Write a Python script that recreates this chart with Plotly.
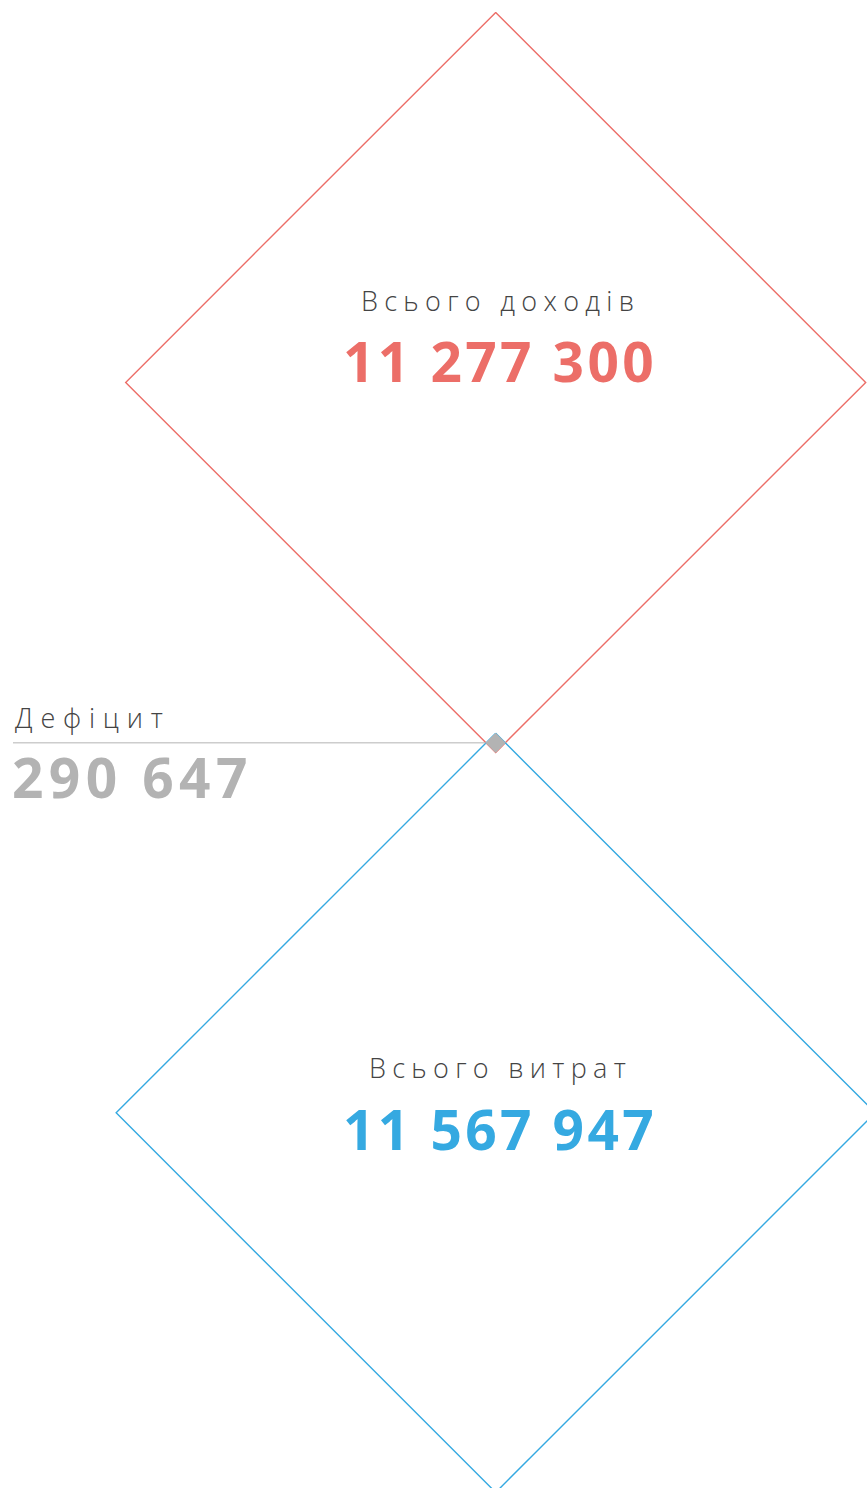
import plotly.graph_objects as go

# ---- data ----
labels = ["Всього доходів", "Всього витрат"]
values = [11277300, 11567947]
deficit_label = "Дефіцит"
deficit_value = values[1] - values[0]  # 290 647

colors = ["#ec6e68", "#35a9e1"]
grey = "#b3b3b3"
label_color = "#444444"

W, H = 867, 1488
k = 370.0 / values[0]          # pixels per unit (half-diagonal scale)
cx = 495.7                      # horizontal centre of diamonds
junction_y = 742.85             # centre of the overlap

def fmt(v):
    return f"{v:,}".replace(",", " ")

def diamond(x0, y0, r):
    xs = [x0, x0 + r, x0, x0 - r, x0]
    ys = [y0 - r, y0, y0 + r, y0, y0 - r]
    return xs, ys

r_inc = values[0] * k
r_exp = values[1] * k
d = deficit_value * k
c_inc = junction_y + d - r_inc
c_exp = junction_y - d + r_exp

fig = go.Figure()

for r, cy, col in [(r_inc, c_inc, colors[0]), (r_exp, c_exp, colors[1])]:
    xs, ys = diamond(cx, cy, r)
    fig.add_trace(go.Scatter(x=xs, y=ys, mode="lines",
                             line=dict(color=col, width=1.4),
                             hoverinfo="skip", showlegend=False))

# overlap (deficit) diamond
xs, ys = diamond(cx, junction_y, d)
fig.add_trace(go.Scatter(x=xs, y=ys, mode="lines", fill="toself",
                         fillcolor=grey, line=dict(color=grey, width=1),
                         hoverinfo="skip", showlegend=False))

# deficit leader line
fig.add_trace(go.Scatter(x=[13, cx - d], y=[junction_y, junction_y], mode="lines",
                         line=dict(color=grey, width=1),
                         hoverinfo="skip", showlegend=False))

light = dict(family="Open Sans", size=27, color=label_color, weight=300)

def spaced(t, px):
    return f'<span style="letter-spacing:{px}px">{t}</span>'

ann = []
for lab, val, cy, col, ly, ny in [
    (labels[0], values[0], c_inc, colors[0], 300, 360),
    (labels[1], values[1], c_exp, colors[1], 1067, 1128),
]:
    ann.append(dict(x=cx + 5, y=ly, text=spaced(lab, 6.3), showarrow=False,
                    xanchor="center", yanchor="middle", font=light))
    ann.append(dict(x=cx + 4, y=ny, text=spaced(fmt(val), 3.4), showarrow=False,
                    xanchor="center", yanchor="middle",
                    font=dict(family="Open Sans", size=55, color=col, weight=700)))

ann.append(dict(x=13, y=717, text=spaced(deficit_label, 7.8), showarrow=False,
                xanchor="left", yanchor="middle", font=light))
ann.append(dict(x=10, y=776, text=spaced(fmt(deficit_value), 5.4), showarrow=False,
                xanchor="left", yanchor="middle",
                font=dict(family="Open Sans", size=55, color=grey, weight=700)))

fig.update_layout(
    width=W, height=H,
    margin=dict(l=0, r=0, t=0, b=0),
    paper_bgcolor="white", plot_bgcolor="white",
    xaxis=dict(range=[0, W], visible=False, fixedrange=True),
    yaxis=dict(range=[H, 0], visible=False, fixedrange=True),
    annotations=ann,
)

fig.write_html("out.html", config={"displayModeBar": False},
               post_script="document.body.style.margin='0';document.body.style.overflow='hidden';")
